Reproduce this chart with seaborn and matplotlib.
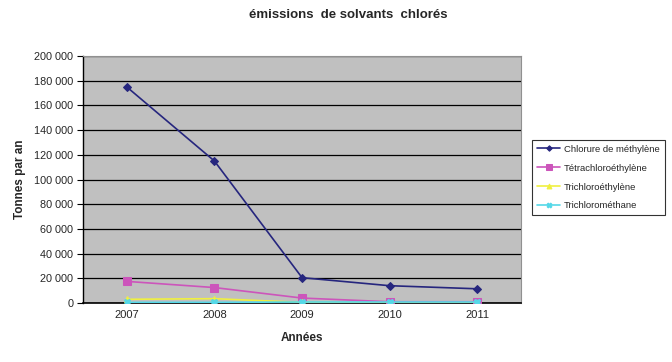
import matplotlib
matplotlib.use("Agg")
import matplotlib.pyplot as plt
import seaborn as sns
import pandas as pd
from matplotlib.ticker import FuncFormatter, FixedLocator

annees = ["2007", "2008", "2009", "2010", "2011"]
chlorure = [175000, 115000, 20500, 14000, 11500]
tetrachloro = [17500, 12500, 4000, 1000, 1000]
trichloroethylene = [3000, 3500, 500, 0, 0]
trichloromethane = [500, 500, 800, 800, 800]

series_names = ["Chlorure de méthylène", "Tétrachloroéthylène",
                "Trichloroéthylène", "Trichlorométhane"]
series_vals = [chlorure, tetrachloro, trichloroethylene, trichloromethane]
colors = ["#26267e", "#cc55bb", "#f0f040", "#55d8e8"]
markers = ["D", "s", "^", "X"]
msizes = [4, 6, 5, 5]

rows = []
for name, vals in zip(series_names, series_vals):
    for i, (a, v) in enumerate(zip(annees, vals)):
        rows.append({"pos": i, "Année": a, "valeur": v, "série": name})
df = pd.DataFrame(rows)

sns.set_style("white")
plt.rcParams["font.family"] = ["Liberation Sans", "DejaVu Sans"]

fig = plt.figure(figsize=(6.72, 3.62), dpi=100)
ax = fig.add_axes([0.1235, 0.163, 0.652, 0.682])
ax.set_facecolor("#c0c0c0")

for name, col, mk, ms in zip(series_names, colors, markers, msizes):
    sub = df[df["série"] == name]
    sns.lineplot(data=sub, x="pos", y="valeur", ax=ax, color=col, marker=mk,
                 markersize=ms, linewidth=1.2, markeredgecolor=col,
                 label=name, zorder=3)

ax.set_xlim(-0.5, len(annees) - 0.5)
ax.set_ylim(0, 200000)
ax.set_yticks(range(0, 200001, 20000))
ax.yaxis.set_major_formatter(FuncFormatter(lambda v, p: f"{int(v):,}".replace(",", " ")))
ax.yaxis.grid(True, color="black", linewidth=0.9)
ax.set_axisbelow(True)

ax.set_xticks(range(len(annees)))
ax.set_xticklabels(annees)
ax.xaxis.set_minor_locator(FixedLocator([i - 0.5 for i in range(len(annees) + 1)]))
ax.tick_params(axis="x", which="major", length=0, labelsize=8, pad=5)
ax.tick_params(axis="x", which="minor", length=3, width=0.8, color="black", direction="out")
ax.tick_params(axis="y", which="major", length=4, width=0.8, labelsize=7.8, color="black",
               left=True, direction="out", pad=3)

for s in ["top", "right"]:
    ax.spines[s].set_color("#909090")
    ax.spines[s].set_linewidth(0.8)
ax.spines["left"].set_color("black")
ax.spines["bottom"].set_color("black")
ax.spines["left"].set_linewidth(1)
ax.spines["bottom"].set_linewidth(1.2)

ax.set_xlabel("Années", fontsize=8.5, fontweight="bold", labelpad=9)
ax.set_ylabel("Tonnes par an", fontsize=8.5, fontweight="bold", labelpad=6)
fig.suptitle("émissions  de solvants  chlorés", x=0.518, y=0.975, fontsize=9.5, fontweight="bold")

leg = ax.legend(loc="upper left", bbox_to_anchor=(532 / 672, 1 - 140 / 362),
                bbox_transform=fig.transFigure, fontsize=6.8, frameon=True,
                fancybox=False, edgecolor="black", borderpad=0.5, labelspacing=1.05,
                handlelength=2.5, handletextpad=0.4, markerscale=0.7, borderaxespad=0)
leg.get_frame().set_linewidth(0.8)

fig.savefig("out.png", dpi=100, facecolor="white")
